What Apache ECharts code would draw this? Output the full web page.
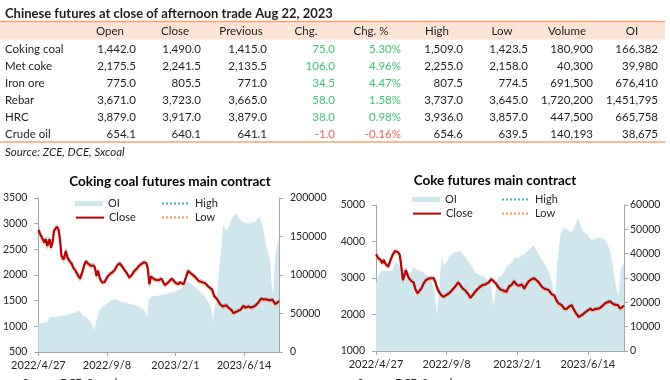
<!DOCTYPE html>
<html>
<head>
<meta charset="utf-8">
<script src="https://cdn.jsdelivr.net/npm/echarts@6/dist/echarts.min.js"></script>
<style>html,body{margin:0;padding:0;background:#fff;}#c{width:670px;height:380px;}</style>
</head>
<body>
<div id="c"></div>
<script>
// ---------- Table data ----------
var tableTitle = 'Chinese futures at close of afternoon trade Aug 22, 2023';
var headers = ['Open','Close','Previous','Chg.','Chg. %','High','Low','Volume','OI'];
var products = ['Coking coal','Met coke','Iron ore','Rebar','HRC','Crude oil'];
var openP  = [1442.0,2175.5,775.0,3671.0,3879.0,654.1];
var closeP = [1490.0,2241.5,805.5,3723.0,3917.0,640.1];
var prevP  = [1415.0,2135.5,771.0,3665.0,3879.0,641.1];
var chg    = [75.0,106.0,34.5,58.0,38.0,-1.0];
var chgPct = [5.30,4.96,4.47,1.58,0.98,-0.16];
var highP  = [1509.0,2255.0,807.5,3737.0,3936.0,654.6];
var lowP   = [1423.5,2158.0,774.5,3645.0,3857.0,639.5];
var volume = [180900,40300,691500,1720200,447500,140193];
var oiT    = [166382,39980,676410,1451795,665758,38675];
var tableSource = 'Source: ZCE, DCE, Sxcoal';

// ---------- Chart axis labels (trading-day index -> date) ----------
var xTickDays = [0,92,184,276];
var xTickLabels = ['2022/4/27','2022/9/8','2023/2/1','2023/6/14'];
var lastDay = 323;

// ---------- Coking coal futures ----------
var ccDays = [0,3,6,8,10,12,15,17,19,21, 25,27,29,31,34,37,39,42,45,47, 50,54,56,58,62,64,66,71,74,76,
  78,80,81,83,86,89,93,96,100,103, 106,109,112,115,119,122,125,129,132,135, 138,142,145,147,149,151,153,156,159,162,
  165,168,170,174,179,184,188,190,195,198, 201,206,210,215,219,224,228,233,236,240, 244,248,252,255,259,262,265,268,272,275,
  278,282,286,291,295,299,302,306,311,314, 318,320,323];
var ccClose = [2880,2780,2695,2630,2700,2565,2700,2530,2630,2860, 2940,2890,2700,2370,2300,2470,2340,2270,2210,2140,
  2080,1970,1930,2010,2210,2270,2230,2175,2190,2140, 1980,2080,2110,1915,1850,1865,1970,2015,2060,2110,
  2190,2230,2175,2110,2030,1950,1990,2080,2120,2175, 2210,2250,2230,2110,1820,1970,1990,1915,1900,1903,
  1930,1850,1800,1850,1930,1850,1820,1860,1820,1950, 2080,2015,1970,1885,1865,1840,1775,1720,1590,1525,
  1430,1385,1410,1365,1320,1255,1280,1300,1330,1400, 1365,1385,1365,1400,1460,1540,1525,1525,1505,1525,
  1430,1460,1490];
var ccHigh = [2970,2830,2740,2680,2740,2620,2740,2580,2680,2900, 2980,2940,2760,2440,2350,2520,2400,2320,2260,2190,
  2130,2020,1980,2060,2250,2310,2270,2215,2230,2190, 2040,2120,2150,1970,1890,1905,2010,2055,2100,2150,
  2230,2270,2215,2150,2075,1995,2030,2120,2160,2215, 2250,2285,2270,2160,1880,2010,2030,1960,1940,1945,
  1970,1895,1845,1890,1970,1890,1865,1900,1865,1990, 2115,2055,2010,1925,1905,1880,1815,1765,1640,1570,
  1475,1425,1450,1405,1360,1295,1315,1335,1370,1440, 1400,1420,1400,1435,1495,1575,1560,1560,1540,1560,
  1470,1500,1509];
var ccLow = [2830,2720,2640,2580,2650,2510,2650,2480,2580,2800, 2890,2840,2640,2300,2240,2410,2280,2220,2160,2090,
  2030,1920,1880,1960,2160,2220,2180,2130,2145,2090, 1930,2030,2060,1865,1805,1820,1925,1970,2015,2065,
  2145,2185,2130,2065,1985,1905,1945,2035,2075,2130, 2165,2205,2185,2060,1780,1925,1945,1870,1860,1860,
  1885,1805,1760,1805,1885,1805,1780,1820,1780,1905, 2035,1970,1925,1840,1825,1800,1735,1675,1540,1480,
  1390,1345,1370,1325,1280,1215,1240,1260,1290,1360, 1325,1345,1325,1360,1420,1500,1485,1485,1465,1485,
  1390,1420,1423];
var ccOIDays = [0,8,12,15,21,30,39,48,55,59, 66,71,75,77,82,86,93,98,104,111, 120,129,135,142,146,148,153,157,166,175,
  184,193,199,201,206,210,217,224,228,232, 234,236,239,242,245,248,253,260,265,271, 278,284,291,297,302,306,311,313,315,318,
  320,323];
var ccOI = [37200,38100,39000,45900,45000,46800,48000,51000,53700,48000, 43700,37200,28600,37000,54500,58900,63200,67500,68400,65400,
  63200,61000,58900,54500,45900,67500,72700,72700,74000,76200, 78400,82700,91300,93500,88300,84800,78400,71900,65400,56700,
  39400,54500,67000,100000,130000,164900,157400,173600,180100,171400, 167100,167100,169300,175800,158400,136800,119500,89200,76200,123800,
  136800,150000];

// ---------- Coke futures ----------
var ckDays = [0,3,6,8,10,12,14,16,19,22, 25,29,31,33,35,37,39,41,43,46, 49,51,54,56,59,62,65,69,72,75,
  77,80,82,85,88,91,95,99,103,107, 110,113,116,121,123,126,129,134,138,142, 147,150,153,156,159,162,165,167,170,173,
  177,180,183,186,190,193,196,199,203,206, 209,212,216,219,222,225,229,232,235,238, 242,245,248,251,255,257,260,264,266,269,
  272,276,279,282,285,289,292,295,298,302, 305,308,311,315,318,320,323];
var ckClose = [3650,3540,3495,3400,3495,3400,3450,3310,3495,3650, 3740,3700,3630,3310,2940,3080,3220,3080,2990,2915,
  2880,2710,2580,2620,2710,2850,2940,2990,2990,3000, 2900,2710,2620,2530,2480,2530,2575,2665,2760,2880,
  2800,2710,2665,2530,2455,2530,2620,2730,2800,2820, 2880,2970,2915,2850,2760,2685,2665,2710,2620,2760,
  2820,2915,2820,2785,2820,2710,2820,2915,2970,2990, 2940,2880,2760,2710,2690,2665,2550,2530,2390,2300,
  2255,2160,2145,2210,2255,2160,2050,1930,1960,1995, 2050,2115,2160,2115,2145,2160,2180,2235,2300,2345,
  2365,2300,2270,2255,2160,2115,2241];
var ckHigh = [3720,3600,3550,3460,3550,3460,3510,3370,3550,3710, 3790,3760,3690,3380,3010,3140,3280,3140,3050,2970,
  2940,2770,2640,2680,2760,2900,2990,3040,3040,3050, 2960,2770,2680,2590,2535,2580,2625,2715,2810,2930,
  2855,2765,2720,2585,2510,2585,2670,2780,2850,2870, 2930,3020,2970,2905,2815,2740,2715,2760,2675,2810,
  2870,2965,2875,2835,2870,2765,2870,2965,3020,3040, 2995,2935,2815,2765,2740,2715,2605,2585,2445,2355,
  2305,2215,2195,2260,2305,2215,2105,1985,2010,2045, 2100,2165,2210,2165,2195,2210,2230,2285,2350,2395,
  2410,2350,2320,2305,2210,2165,2255];
var ckLow = [3580,3480,3440,3340,3440,3340,3390,3250,3440,3590, 3680,3640,3570,3240,2880,3020,3160,3020,2930,2860,
  2820,2650,2520,2560,2650,2790,2880,2935,2935,2945, 2840,2650,2560,2470,2420,2475,2520,2610,2705,2820,
  2745,2650,2605,2470,2400,2475,2565,2675,2745,2765, 2825,2915,2860,2790,2700,2625,2610,2650,2560,2700,
  2765,2860,2760,2730,2760,2650,2765,2860,2915,2935, 2880,2820,2700,2650,2635,2610,2495,2470,2330,2245,
  2200,2100,2090,2150,2200,2105,1990,1880,1905,1940, 1995,2060,2105,2060,2090,2105,2125,2180,2245,2290,
  2310,2245,2215,2200,2105,2060,2158];
var ckOIDays = [0,3,8,21,25,32,38,45,49,56, 62,69,73,77,79,82,84,86,88,92, 97,101,105,110,114,118,125,129,136,142,
  147,150,153,156,159,164,170,177,181,185, 190,194,198,203,206,209,214,218,222,227, 231,233,236,240,244,248,253,257,261,264,
  267,270,274,281,285,292,296,300,305,309, 313,316,319,323];
var ckOI = [27500,31000,33000,33000,36500,35100,33100,32400,34500,33100, 32400,30300,28300,22700,14500,24100,33800,38600,35200,36500,
  39300,40400,40700,41000,39300,37900,34500,32400,31000,30300, 28900,26200,18600,24800,30300,31000,34500,36500,38600,37900,
  39300,40000,41400,42700,43400,41400,38600,36500,34500,31000, 25500,20000,35900,47600,50300,50100,48900,49600,53100,54500,
  51000,48900,48300,45500,46200,46500,46200,44800,41400,33800, 25500,22700,33800,36500];

var chartTitles = ['Coking coal futures main contract','Coke futures main contract'];
var chartSource = 'Source: DCE, Sxcoal';

// ---------- helpers ----------
function pairs(xs, ys){ return xs.map(function(x,i){ return [x, ys[i]]; }); }
function commas(s){ var p = s.split('.'); p[0] = p[0].replace(/\B(?=(\d{3})+(?!\d))/g, ','); return p.join('.'); }
function f1(v){ return commas(v.toFixed(1)); }
function f0(v){ return commas(String(Math.round(v))); }

var FONT = 'Lato, "Open Sans", sans-serif';
var TXT = '#1e1e1e';
var GREEN = '#3cc46e', RED = '#ff5a5a';
var ORANGE = '#f2a46c', PEACH = '#fce4d6';
var OI_COLOR = '#cfe6ec', CLOSE_COLOR = '#c00000', HIGH_COLOR = '#4bacc6', LOW_COLOR = '#f79646';
var AXIS_COLOR = '#a6a6a6', LABEL_COLOR = '#262626';

// ---------- table graphics ----------
var g = [];
function txt(s, x, y, opt){
  opt = opt || {};
  g.push({type:'text', x:x, y:y, silent:true, style:{text:s, fill:opt.fill||TXT,
    font:(opt.style||'') + ' ' + (opt.weight||'normal') + ' ' + (opt.size||11.5) + 'px ' + FONT,
    align:opt.align||'left', verticalAlign:'middle', textAlign:opt.align||'left', textVerticalAlign:'middle'}});
}
g.push({type:'rect', shape:{x:0, y:22, width:665, height:17.5}, style:{fill:PEACH}, silent:true});
g.push({type:'line', shape:{x1:0, y1:21.5, x2:665, y2:21.5}, style:{stroke:ORANGE, lineWidth:1.6}, silent:true});
g.push({type:'line', shape:{x1:0, y1:142, x2:665, y2:142}, style:{stroke:ORANGE, lineWidth:1.6}, silent:true});
txt(tableTitle, 5, 13.5, {weight:'bold', size:13});
var headCenters = [110,175,241,306,371,437,502,567,632];
headers.forEach(function(h,i){ txt(h, headCenters[i], 31, {align:'center'}); });
var colRight = [136,201,267,335,401,463,528,593,658];
products.forEach(function(p,i){
  var y = 49 + i*17;
  txt(p, 5, y);
  var vals = [f1(openP[i]), f1(closeP[i]), f1(prevP[i]), f1(chg[i]), chgPct[i].toFixed(2)+'%',
              f1(highP[i]), f1(lowP[i]), f0(volume[i]), f0(oiT[i])];
  vals.forEach(function(v,j){
    var fill = TXT;
    if (j===3 || j===4) fill = chg[i] >= 0 ? GREEN : RED;
    txt(v, colRight[j], y, {align:'right', fill:fill});
  });
});
txt(tableSource, 5, 152.5, {style:'italic'});
// chart titles
txt(chartTitles[0], 170, 182, {weight:'bold', size:13.5, align:'center', fill:'#000'});
txt(chartTitles[1], 495, 181, {weight:'bold', size:13.5, align:'center', fill:'#000'});
// cut-off source notes below charts
txt(chartSource, 22, 383, {style:'italic', size:11.5});
txt(chartSource, 357, 383, {style:'italic', size:11.5});

// ---------- axes ----------
function xAxisFor(gi){
  return {gridIndex:gi, type:'value', min:0, max:lastDay, interval:92,
    axisLine:{show:true, lineStyle:{color:AXIS_COLOR, width:1}},
    axisTick:{show:true, length:4, customValues:xTickDays, lineStyle:{color:AXIS_COLOR}},
    axisLabel:{show:true, margin:8, customValues:xTickDays, color:LABEL_COLOR, fontSize:11, fontFamily:FONT,
      hideOverlap:false,
      formatter:function(v){ var k = xTickDays.indexOf(Math.round(v)); return k>=0 ? xTickLabels[k] : ''; }},
    splitLine:{show:false}};
}
function yAxisFor(gi, min, max, interval, pos, margin){
  return {gridIndex:gi, type:'value', min:min, max:max, interval:interval, position:pos,
    axisLine:{show:true, lineStyle:{color:AXIS_COLOR, width:1}},
    axisTick:{show:true, length:4, lineStyle:{color:AXIS_COLOR}},
    axisLabel:{margin:margin, color:LABEL_COLOR, fontSize:10.5, fontFamily:FONT,
      formatter:function(v){ return String(v); }},
    splitLine:{show:false}};
}

function seriesFor(gi, days, close, high, low, oiDays, oi){
  var xi = gi, yl = gi*2, yr = gi*2+1;
  return [
    {name:'OI', type:'line', xAxisIndex:xi, yAxisIndex:yr, data:pairs(oiDays, oi), symbol:'none',
      color:OI_COLOR, lineStyle:{width:0, color:OI_COLOR}, areaStyle:{color:OI_COLOR, opacity:1}, z:1, silent:true},
    {name:'High', type:'line', xAxisIndex:xi, yAxisIndex:yl, data:pairs(days, high), symbol:'none',
      color:HIGH_COLOR, lineStyle:{width:1, type:'dotted', color:HIGH_COLOR}, z:2, silent:true},
    {name:'Low', type:'line', xAxisIndex:xi, yAxisIndex:yl, data:pairs(days, low), symbol:'none',
      color:LOW_COLOR, lineStyle:{width:1, type:'dotted', color:LOW_COLOR}, z:2, silent:true},
    {name:'Close', type:'line', xAxisIndex:xi, yAxisIndex:yl, data:pairs(days, close), symbol:'none',
      color:CLOSE_COLOR, lineStyle:{width:2.2, color:CLOSE_COLOR}, z:3, silent:true}
  ];
}

function leg(name, left, top, isRect){
  var l = {left:left, top:top, padding:0, itemWidth:28, itemHeight:isRect?5:14, selectedMode:false,
    data:[isRect ? {name:name, icon:'rect'} : {name:name}],
    textStyle:{fontSize:11, color:LABEL_COLOR, fontFamily:FONT, padding:[0,0,0,0]}};
  if (!isRect) l.itemStyle = {opacity:0, borderWidth:0};
  return l;
}

var option = {
  animation:false,
  backgroundColor:'#fff',
  textStyle:{fontFamily:FONT},
  grid:[{left:38, top:198, width:241, height:154}, {left:376, top:205, width:248, height:146}],
  xAxis:[xAxisFor(0), xAxisFor(1)],
  yAxis:[yAxisFor(0,500,3500,500,'left',11), yAxisFor(0,0,200000,50000,'right',11),
         yAxisFor(1,1000,5000,1000,'left',11), yAxisFor(1,0,60000,10000,'right',6)],
  legend:[leg('OI',75,198,true), leg('High',161,198,false), leg('Close',75,212,false), leg('Low',161,212,false),
          leg('OI',412,194,true), leg('High',501,194,false), leg('Close',412,208,false), leg('Low',501,208,false)],
  series: seriesFor(0, ccDays, ccClose, ccHigh, ccLow, ccOIDays, ccOI)
    .concat(seriesFor(1, ckDays, ckClose, ckHigh, ckLow, ckOIDays, ckOI)),
  graphic:{elements:g}
};
var chart = echarts.init(document.getElementById('c'), null, {renderer:'canvas', width:670, height:380});
chart.setOption(option);
</script>
</body>
</html>
